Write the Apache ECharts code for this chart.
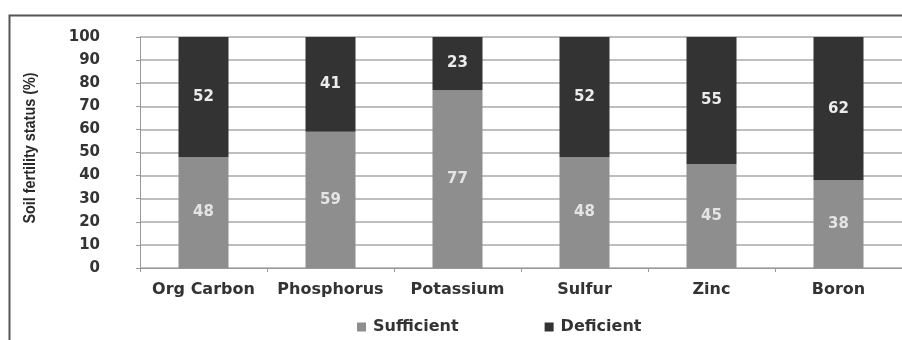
<!DOCTYPE html>
<html><head><meta charset="utf-8">
<script src="https://cdn.jsdelivr.net/npm/echarts@6/dist/echarts.min.js"></script>
<style>html,body{margin:0;padding:0;background:#fff}#c{width:902px;height:340px}</style>
</head><body><div id="c"></div>
<script>
var categories = ['Org Carbon','Phosphorus','Potassium','Sulfur','Zinc','Boron'];
var sufficient = [48, 59, 77, 48, 45, 38];
var deficient = [52, 41, 23, 52, 55, 62];
var yTicks = [0,10,20,30,40,50,60,70,80,90,100];
var seriesNames = ['Sufficient','Deficient'];
var yTitle = 'Soil fertility status (%)';

var FF = 'DejaVu Sans';
var chart = echarts.init(document.getElementById('c'), null, {renderer:'canvas'});
function lbl(c){return {show:true, position:'inside', color:c, fontFamily:FF, fontWeight:'bold', fontSize:15};}
chart.setOption({
  animation:false,
  backgroundColor:'#fff',
  graphic:[
    {type:'rect', shape:{x:9.5,y:15.5,width:900,height:340}, style:{fill:'none', stroke:'#555', lineWidth:2}},
    {type:'text', x:31, y:148, rotation:Math.PI/2, scaleX:0.9,
     style:{text:yTitle, font:'bold 16px "Liberation Sans"', fill:'#2a2a2a', align:'center', verticalAlign:'middle'}}
  ],
  grid:{left:140, top:37, width:771, height:231},
  legend:{
    data:seriesNames, bottom:0, left:352, itemGap:86, itemWidth:9, itemHeight:9, icon:'rect',
    textStyle:{fontFamily:FF, fontWeight:'bold', fontSize:16, color:'#333', padding:[0,0,0,2]}
  },
  xAxis:{
    type:'category', data:categories,
    axisLine:{lineStyle:{color:'#999', width:1}},
    axisTick:{show:true, length:4, lineStyle:{color:'#999'}},
    axisLabel:{interval:0, fontFamily:FF, fontWeight:'bold', fontSize:16, color:'#333', margin:14}
  },
  yAxis:{
    type:'value', min:yTicks[0], max:yTicks[yTicks.length-1], interval:10,
    axisLine:{show:true, lineStyle:{color:'#999'}},
    axisTick:{show:true, length:4, lineStyle:{color:'#999'}},
    axisLabel:{fontFamily:FF, fontWeight:'bold', fontSize:15, color:'#333', margin:40, align:'right'},
    splitLine:{lineStyle:{color:'#a8a8a8', width:1.5}}
  },
  series:[
    {name:seriesNames[0], type:'bar', stack:'s', data:sufficient, barWidth:50, itemStyle:{color:'#8e8e8e'}, label:lbl('#e4e4e4')},
    {name:seriesNames[1], type:'bar', stack:'s', data:deficient, barWidth:50, itemStyle:{color:'#333333'}, label:lbl('#ececec')}
  ]
});
</script></body></html>
